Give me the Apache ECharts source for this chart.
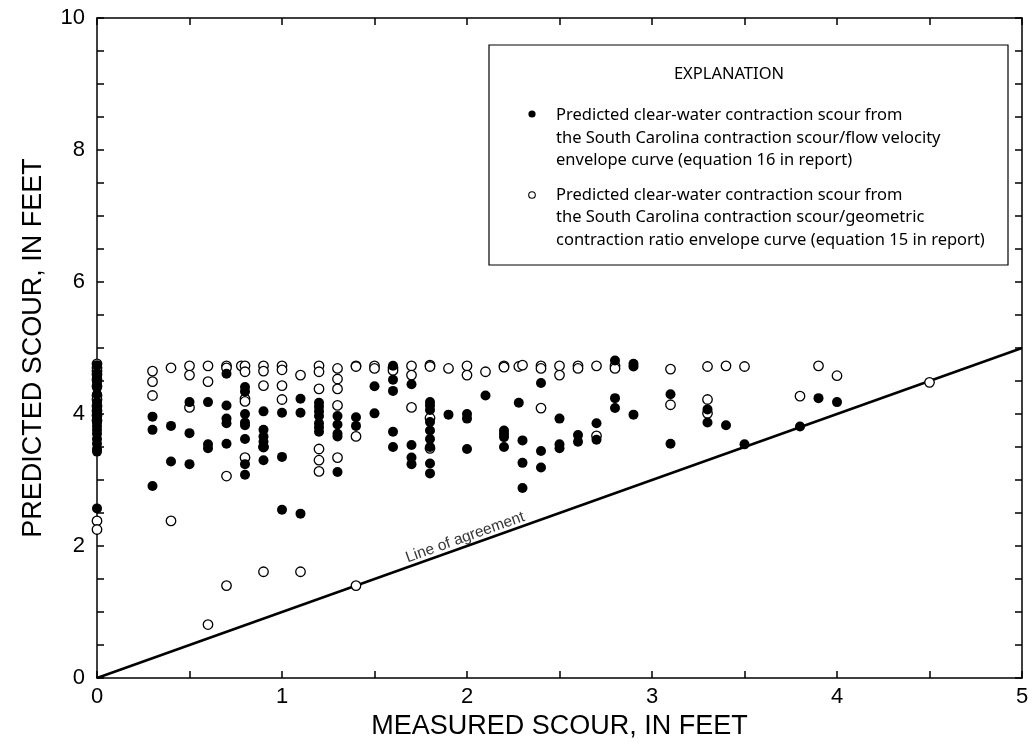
<!DOCTYPE html>
<html>
<head>
<meta charset="utf-8">
<script src="https://cdn.jsdelivr.net/npm/echarts@6/dist/echarts.min.js"></script>
<style>
html,body{margin:0;padding:0;background:#fff;}
#chart{width:1035px;height:745px;}
</style>
</head>
<body>
<div id="chart"></div>
<script>
// Axis ticks
var xTickLabels = ['0','1','2','3','4','5'];
var yTickLabels = ['0','2','4','6','8','10'];

// Line of agreement endpoints (measured = predicted)
var agreementLine = [[0,0],[5,5]];

// Predicted from contraction scour / flow velocity envelope curve (eq. 16) — filled dots
var velocityEnvelope = [
  [0,4.74],[0,4.62],[0,4.55],[0,4.48],[0,4.40],[0,4.30],[0,4.18],[0,4.10],[0,4.02],[0,3.95],
  [0,3.88],[0,3.82],[0,3.76],[0,3.70],[0,3.62],[0,3.55],[0,3.47],[0,3.43],[0,2.57],
  [0.3,3.96],[0.3,3.76],[0.3,2.91],
  [0.4,3.82],[0.4,3.28],
  [0.5,4.18],[0.5,3.71],[0.5,3.24],
  [0.6,4.18],[0.6,3.54],[0.6,3.48],
  [0.7,4.61],[0.7,4.13],[0.7,3.93],[0.7,3.86],[0.7,3.55],
  [0.8,4.41],[0.8,4.34],[0.8,4.00],[0.8,3.87],[0.8,3.83],[0.8,3.62],[0.8,3.24],[0.8,3.08],
  [0.9,4.04],[0.9,3.76],[0.9,3.66],[0.9,3.58],[0.9,3.50],[0.9,3.30],
  [1.0,4.02],[1.0,3.35],[1.0,2.55],
  [1.1,4.23],[1.1,4.02],[1.1,2.49],
  [1.2,4.17],[1.2,4.11],[1.2,4.04],[1.2,3.97],[1.2,3.86],[1.2,3.80],[1.2,3.73],
  [1.3,3.97],[1.3,3.84],[1.3,3.70],[1.3,3.66],[1.3,3.12],
  [1.4,3.95],[1.4,3.82],
  [1.5,4.42],[1.5,4.01],
  [1.6,4.73],[1.6,4.52],[1.6,4.35],[1.6,3.73],[1.6,3.50],
  [1.7,4.45],[1.7,3.53],[1.7,3.34],[1.7,3.24],
  [1.8,4.18],[1.8,4.13],[1.8,4.06],[1.8,3.88],[1.8,3.75],[1.8,3.62],[1.8,3.50],[1.8,3.25],[1.8,3.10],
  [1.9,3.99],
  [2.0,4.00],[2.0,3.93],[2.0,3.47],
  [2.1,4.28],
  [2.2,3.75],[2.2,3.70],[2.2,3.65],[2.2,3.50],
  [2.28,4.17],[2.3,3.60],[2.3,3.26],[2.3,2.88],
  [2.4,4.47],[2.4,3.44],[2.4,3.19],
  [2.5,3.93],[2.5,3.54],[2.5,3.48],
  [2.6,3.68],[2.6,3.58],
  [2.7,3.86],[2.7,3.61],
  [2.8,4.81],[2.8,4.24],[2.8,4.09],
  [2.9,4.76],[2.9,4.72],[2.9,3.99],
  [3.1,4.30],[3.1,3.55],
  [3.3,4.07],[3.3,3.87],
  [3.4,3.83],
  [3.5,3.54],
  [3.8,3.81],
  [3.9,4.24],
  [4.0,4.18]
];

// Predicted from contraction scour / geometric contraction ratio envelope curve (eq. 15) — open circles
var ratioEnvelope = [
  [0,4.76],[0,4.70],[0,4.65],[0,4.60],[0,4.52],[0,4.42],[0,4.28],[0,4.22],[0,4.12],[0,4.05],
  [0,3.98],[0,3.90],[0,2.38],[0,2.25],
  [0.3,4.65],[0.3,4.49],[0.3,4.28],
  [0.4,4.70],[0.4,2.38],
  [0.5,4.73],[0.5,4.59],[0.5,4.10],
  [0.6,4.73],[0.6,4.49],[0.6,0.81],
  [0.7,4.73],[0.7,4.70],[0.7,3.06],[0.7,1.40],
  [0.78,4.73],[0.8,4.73],[0.8,4.64],[0.8,4.23],[0.8,4.19],[0.8,3.34],
  [0.9,4.73],[0.9,4.65],[0.9,4.43],[0.9,3.50],[0.9,1.61],
  [1.0,4.73],[1.0,4.67],[1.0,4.43],[1.0,4.22],
  [1.1,4.59],[1.1,1.61],
  [1.2,4.73],[1.2,4.64],[1.2,4.38],[1.2,3.47],[1.2,3.30],[1.2,3.13],
  [1.3,4.69],[1.3,4.53],[1.3,4.38],[1.3,4.13],[1.3,3.34],
  [1.4,4.73],[1.4,4.72],[1.4,3.66],[1.4,1.40],
  [1.5,4.73],[1.5,4.69],
  [1.6,4.70],[1.6,4.66],
  [1.7,4.73],[1.7,4.59],[1.7,4.10],
  [1.8,4.74],[1.8,4.72],[1.8,3.94],[1.8,3.48],
  [1.9,4.69],
  [2.0,4.73],[2.0,4.59],
  [2.1,4.64],
  [2.2,4.73],[2.2,4.71],
  [2.28,4.72],[2.3,4.74],
  [2.4,4.73],[2.4,4.69],[2.4,4.09],
  [2.5,4.73],[2.5,4.59],
  [2.6,4.73],[2.6,4.69],
  [2.7,4.73],[2.7,3.67],
  [2.8,4.73],[2.8,4.69],
  [3.1,4.68],[3.1,4.14],
  [3.3,4.72],[3.3,4.22],[3.3,4.01],
  [3.4,4.73],
  [3.5,4.72],
  [3.8,4.27],
  [3.9,4.73],
  [4.0,4.58],
  [4.5,4.48]
];

var legendTitle = 'EXPLANATION';
var legendFilledText = 'Predicted clear-water contraction scour from\nthe South Carolina contraction scour/flow velocity\nenvelope curve (equation 16 in report)';
var legendOpenText = 'Predicted clear-water contraction scour from\nthe South Carolina contraction scour/geometric\ncontraction ratio envelope curve (equation 15 in report)';
var lineLabel = 'Line of agreement';
var lineLabelAnchor = [[1.99, 2.13]];

var chart = echarts.init(document.getElementById('chart'), null, {renderer:'canvas'});
var axisFont = 'Liberation Sans, Arial, Helvetica, sans-serif';
var legendFont = '"Noto Sans", "Liberation Sans", sans-serif';

function fmtX(v){ return Math.abs(v - Math.round(v)) < 1e-6 ? xTickLabels[Math.round(v)] : ''; }
function fmtY(v){ var r = Math.round(v); return (Math.abs(v - r) < 1e-6 && r % 2 === 0) ? yTickLabels[r/2] : ''; }

var frameLine = {show:true, onZero:false, lineStyle:{color:'#000', width:1.5}};
var inTick = {show:true, inside:true, length:7, lineStyle:{color:'#000', width:1.5}};

var option = {
  animation:false,
  backgroundColor:'#fff',
  grid:{left:97, right:13, top:18, bottom:67, containLabel:false},
  xAxis:[{
    type:'value', min:0, max:5, interval:0.5, position:'bottom',
    axisLine:frameLine, axisTick:inTick, splitLine:{show:false},
    axisLabel:{formatter:fmtX, color:'#000', fontSize:22, fontFamily:axisFont, margin:8, showMaxLabel:true, showMinLabel:true},
    name:'MEASURED SCOUR, IN FEET', nameLocation:'middle', nameGap:30,
    nameTextStyle:{color:'#000', fontSize:27, fontFamily:axisFont}
  },{
    type:'value', min:0, max:5, interval:0.5, position:'top',
    axisLine:frameLine, axisTick:inTick, splitLine:{show:false}, axisLabel:{show:false}
  }],
  yAxis:[{
    type:'value', min:0, max:10, interval:0.5, position:'left',
    axisLine:frameLine, axisTick:inTick, splitLine:{show:false},
    axisLabel:{formatter:fmtY, color:'#000', fontSize:22, fontFamily:axisFont, margin:12},
    name:'PREDICTED SCOUR, IN FEET', nameLocation:'middle', nameGap:50,
    nameTextStyle:{color:'#000', fontSize:27, fontFamily:axisFont}
  },{
    type:'value', min:0, max:10, interval:0.5, position:'right',
    axisLine:frameLine, axisTick:inTick, splitLine:{show:false}, axisLabel:{show:false}
  }],
  series:[
    {
      type:'line', data:agreementLine, symbol:'none', silent:true,
      lineStyle:{color:'#000', width:2.5}, z:2
    },
    {
      type:'scatter', data:lineLabelAnchor, symbolSize:0, silent:true,
      label:{show:true, position:'inside', formatter:lineLabel, rotate:19.6,
             color:'#000', fontSize:15.5, fontFamily:axisFont}
    },
    {
      type:'scatter', data:ratioEnvelope, symbol:'circle', symbolSize:9.5,
      itemStyle:{color:'#fff', borderColor:'#000', borderWidth:1.3, opacity:1}, z:3
    },
    {
      type:'scatter', data:velocityEnvelope, symbol:'circle', symbolSize:10,
      itemStyle:{color:'#000', borderColor:'#000', borderWidth:0, opacity:1}, z:4
    }
  ],
  graphic:[
    {type:'rect', shape:{x:489, y:45, width:519, height:220}, style:{fill:'#fff', stroke:'#000', lineWidth:1.2}, z:10},
    {type:'text', x:729, y:74, style:{text:legendTitle, fill:'#000', font:'16.5px '+legendFont, align:'center', verticalAlign:'middle'}, z:11},
    {type:'circle', shape:{cx:532, cy:114, r:3.6}, style:{fill:'#000'}, z:11},
    {type:'text', x:556, y:104, style:{text:legendFilledText, fill:'#000', font:'16.5px '+legendFont, lineHeight:22.7}, z:11},
    {type:'circle', shape:{cx:532, cy:195, r:3.3}, style:{fill:'#fff', stroke:'#000', lineWidth:1.1}, z:11},
    {type:'text', x:556, y:183.5, style:{text:legendOpenText, fill:'#000', font:'16.5px '+legendFont, lineHeight:22.7}, z:11}
  ]
};
chart.setOption(option);
</script>
</body>
</html>
